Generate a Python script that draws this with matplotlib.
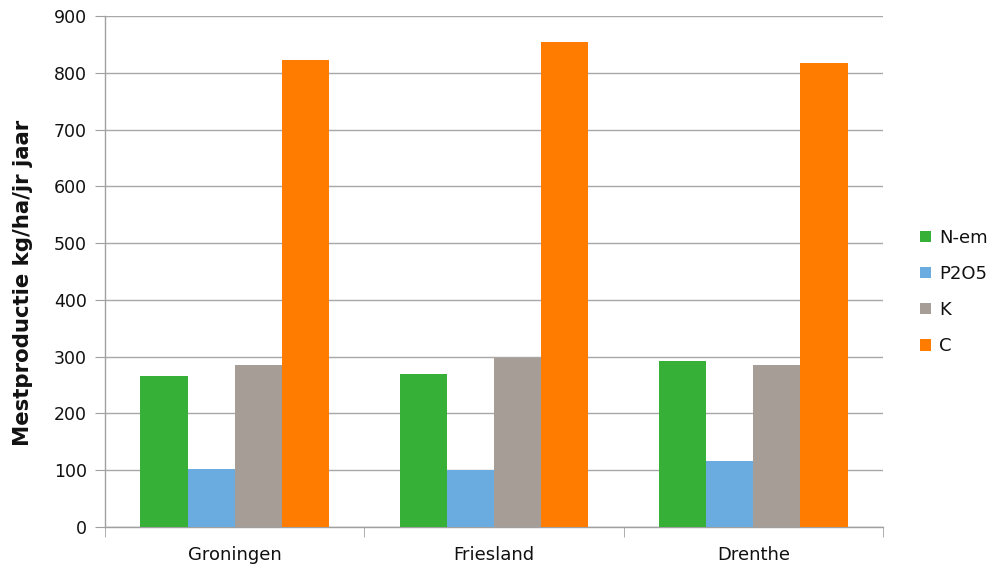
import matplotlib
matplotlib.use("Agg")
import matplotlib.pyplot as plt
import numpy as np

categories = ["Groningen", "Friesland", "Drenthe"]
series_names = ["N-em", "P2O5", "K", "C"]
n_em = [266, 270, 292]
p2o5 = [102, 100, 117]
k = [285, 297, 285]
c = [822, 854, 817]
values = [n_em, p2o5, k, c]
colors = ["#36B037", "#6AABE0", "#A59D96", "#FF7C00"]

fig = plt.figure(figsize=(9.92, 5.66), dpi=100)
ax = fig.add_axes([105/992, 1-527/566, (883-105)/992, (527-16)/566])

x = np.arange(len(categories))
w = 1/5.5
for i, (name, vals, col) in enumerate(zip(series_names, values, colors)):
    ax.bar(x + (i - 1.5)*w, vals, width=w, color=col, label=name, zorder=3)

ax.set_xlim(-0.5, 2.5)
ax.set_ylim(0, 900)
ax.set_yticks(range(0, 901, 100))
ax.set_xticks(x)
ax.set_xticklabels(categories)
ax.set_xticks([-0.5, 0.5, 1.5, 2.5], minor=True)
ax.tick_params(axis='x', which='major', length=0, pad=14, labelsize=13, labelcolor='#111111')
ax.tick_params(axis='x', which='minor', length=7, color='#A0A0A0', direction='out')
ax.tick_params(axis='y', length=7, color='#A0A0A0', labelsize=12.5, pad=6, labelcolor='#111111')
ax.grid(axis='y', color='#A8A8A8', linewidth=1, zorder=0)
for s in ['top', 'right']:
    ax.spines[s].set_visible(False)
for s in ['left', 'bottom']:
    ax.spines[s].set_color('#A0A0A0')
    ax.spines[s].set_linewidth(1)

ax.set_ylabel("Mestproductie kg/ha/jr jaar", fontsize=15.3, fontweight='bold', color='#111111')
ax.yaxis.set_label_coords(-0.093, 0.477)

ax.legend(loc='center left', bbox_to_anchor=(904/992, 0.484), bbox_transform=fig.transFigure,
          frameon=False, fontsize=13, handlelength=0.6, handleheight=0.6,
          handletextpad=0.45, labelspacing=1.0, labelcolor='#111111')

fig.savefig("out.png", dpi=100)
